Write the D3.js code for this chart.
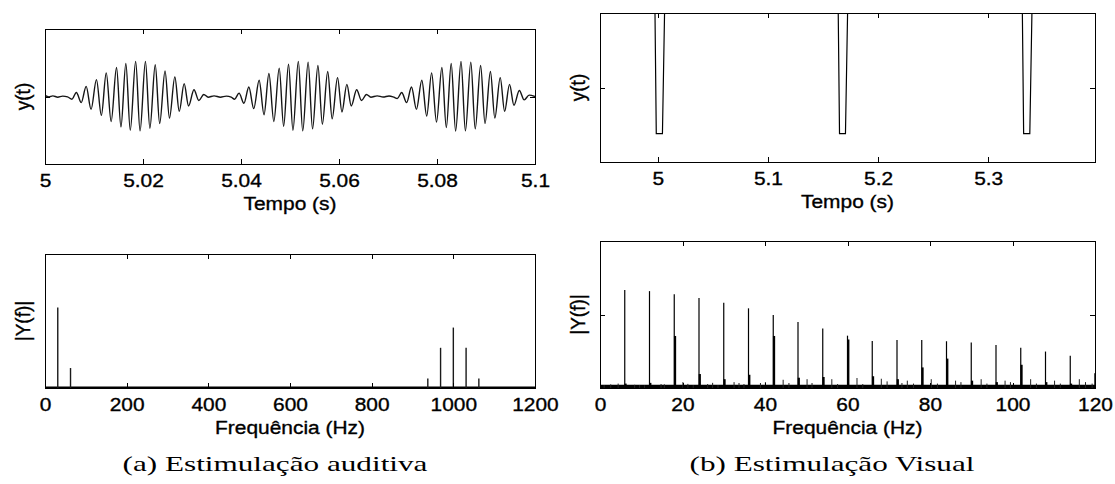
<!DOCTYPE html>
<html><head><meta charset="utf-8">
<script src="https://cdn.jsdelivr.net/npm/d3@7"></script>
<style>body{margin:0;background:#fff}svg{display:block}</style>
</head><body>
<svg id="c" width="1115" height="484"></svg>
<script>
// ---------- (a) auditory stimulation: time signal (extrema) ----------
const audTime = [5.0000,5.0008,5.0016,5.0026,5.0036,5.0046,
 5.0055,5.0064,5.0074,5.0084,5.0094,5.0105,5.0115,5.0125,5.0135,5.0146,5.0155,5.0165,5.0174,5.0185,5.0194,5.0205,5.0214,5.0225,5.0234,5.0245,5.0254,5.0265,5.0274,5.0284,5.0293,5.0304,5.0314,5.0324,5.0333,
 5.0345,5.0358,5.0370,5.0380,
 5.0387,5.0396,5.0406,5.0416,5.0426,5.0437,5.0447,5.0457,5.0467,5.0478,5.0487,5.0497,5.0506,5.0517,5.0526,5.0537,5.0546,5.0557,5.0566,5.0577,5.0586,5.0597,5.0606,5.0616,5.0625,5.0636,5.0646,5.0656,5.0665,
 5.0678,5.0690,5.0702,5.0712,
 5.0719,5.0728,5.0738,5.0748,5.0758,5.0769,5.0779,5.0789,5.0799,5.0810,5.0819,5.0829,5.0838,5.0849,5.0858,5.0869,5.0878,5.0889,5.0898,5.0909,5.0918,5.0929,5.0938,5.0948,5.0957,5.0968,5.0978,5.0988,5.1000];
const audAmp = [0.015,-0.005,0.01,-0.01,0.005,-0.005,
 -0.04,0.06,-0.09,0.15,-0.19,0.25,-0.28,0.35,-0.37,0.43,-0.45,0.49,-0.50,0.52,-0.51,0.52,-0.47,0.47,-0.40,0.38,-0.32,0.29,-0.22,0.19,-0.14,0.10,-0.06,0.03,-0.01,
 0.01,-0.01,0.005,-0.01,
 -0.04,0.05,-0.10,0.14,-0.18,0.24,-0.27,0.34,-0.37,0.42,-0.44,0.48,-0.50,0.52,-0.51,0.51,-0.48,0.46,-0.41,0.37,-0.33,0.28,-0.23,0.18,-0.14,0.10,-0.06,0.03,-0.01,
 0.01,-0.008,0.008,-0.01,
 -0.03,0.06,-0.09,0.14,-0.19,0.24,-0.29,0.35,-0.38,0.43,-0.46,0.49,-0.51,0.52,-0.51,0.51,-0.48,0.46,-0.40,0.37,-0.32,0.28,-0.22,0.18,-0.13,0.09,-0.05,0.02,0.0];
const audTimeTicks = [5, 5.02, 5.04, 5.06, 5.08, 5.1];

// ---------- (a) spectrum ----------
const audFreq = [31.25, 62.5, 937.5, 968.75, 1000, 1031.25, 1062.5];
const audMag  = [0.60, 0.149, 0.071, 0.30, 0.451, 0.30, 0.071];
const audFreqTicks = [0, 200, 400, 600, 800, 1000, 1200];

// ---------- (b) visual stimulation: time signal samples ----------
const visTime = [4.90, 4.9960, 4.9986, 5.0042, 5.0085, 5.1624, 5.1650, 5.1704, 5.1747, 5.3296, 5.3322, 5.3378, 5.3421, 5.45];
const visAmp  = [3, 3, -0.62, -0.62, 3, 3, -0.62, -0.62, 3, 3, -0.62, -0.62, 3, 3];
const visTimeTicks = [5, 5.1, 5.2, 5.3];

// ---------- (b) spectrum ----------
const visHarmFreq = [6,12,18,24,30,36,42,48,54,60,66,72,78,84,90,96,102,108,114,120];
const visHarmMag  = [0.666,0.659,0.637,0.612,0.580,0.542,0.497,0.449,0.404,0.356,0.320,0.327,0.327,0.318,0.309,0.293,0.273,0.248,0.219,0.10];
const visBumpMag  = [0.03,0.035,0.354,0.095,0.06,0.09,0.354,0.07,0.075,0.33,0.08,0.06,0.14,0.20,0.05,0.04,0.158,0.04,0.03,0.10];
const visNoiseFreq = [1.0,2.6,4.4,8.4,9.6,10.8,14.8,15.6,20.1,21.3,22.6,26.1,27.3,28.6,32.5,33.7,34.9,38.9,40.1,44.4,45.8,50.2,51.4,56.2,57.6,62.3,63.7,68.2,69.6,73.2,74.5,76.0,80.3,81.8,86.2,87.5,92.4,93.8,98.2,99.5,104.4,105.8,110.2,111.6,116.2,117.7,119.3];
const visNoiseMag  = [0.02,0.025,0.03,0.022,0.02,0.018,0.027,0.025,0.04,0.028,0.02,0.027,0.035,0.02,0.04,0.034,0.027,0.034,0.04,0.056,0.034,0.06,0.034,0.06,0.027,0.068,0.027,0.063,0.045,0.034,0.05,0.03,0.06,0.03,0.05,0.04,0.06,0.03,0.05,0.04,0.06,0.03,0.05,0.03,0.06,0.04,0.03];
const visFloorFreq = [0, 120];
const visFloorMag  = [0.011, 0.011];
const visFreqTicks = [0, 20, 40, 60, 80, 100, 120];

const captions = ["(a) Estimulação auditiva", "(b) Estimulação Visual"];

// ---------- drawing ----------
const svg = d3.select('#c');
const SANS = '"Liberation Sans", Arial, Helvetica, sans-serif';
const FS = 19, SX = 1.1, TXT_STROKE = 0.35;
let clipId = 0;

function fmtNum(v){ return String(+v.toFixed(3)); }

function panel(o){
  const x = d3.scaleLinear().domain(o.xd).range([o.l, o.r]);
  const y = d3.scaleLinear().domain(o.yd).range([o.b, o.t]);
  const g = svg.append('g');
  const id = 'clip' + (clipId++);
  svg.append('clipPath').attr('id', id).append('rect')
    .attr('x', o.l).attr('y', o.t).attr('width', o.r - o.l).attr('height', o.b - o.t);
  const plot = g.append('g').attr('clip-path', `url(#${id})`);
  const TL = 5;
  const bottom = g.append('g').attr('transform', `translate(0,${o.b})`)
    .call(d3.axisBottom(x).tickValues(o.xt).tickFormat(fmtNum).tickSizeInner(-TL).tickSizeOuter(0).tickPadding(9.5));
  const top = g.append('g').attr('transform', `translate(0,${o.t})`)
    .call(d3.axisTop(x).tickValues(o.xt).tickFormat('').tickSizeInner(-TL).tickSizeOuter(0));
  const axes = [bottom, top];
  if (o.yt) {
    axes.push(g.append('g').attr('transform', `translate(${o.l},0)`)
      .call(d3.axisLeft(y).tickValues(o.yt).tickFormat('').tickSizeInner(-TL).tickSizeOuter(0)));
    axes.push(g.append('g').attr('transform', `translate(${o.r},0)`)
      .call(d3.axisRight(y).tickValues(o.yt).tickFormat('').tickSizeInner(-TL).tickSizeOuter(0)));
  }
  axes.forEach(a => {
    a.select('.domain').remove();
    a.selectAll('line').attr('stroke', '#000').attr('shape-rendering', 'crispEdges');
  });
  bottom.attr('font-family', SANS).attr('font-size', FS);
  bottom.selectAll('text').attr('fill', '#000').attr('stroke', '#000').attr('stroke-width', TXT_STROKE)
    .attr('transform', `scale(${SX},1)`);
  g.append('rect').attr('x', o.l).attr('y', o.t).attr('width', o.r - o.l).attr('height', o.b - o.t)
    .attr('fill', 'none').attr('stroke', '#000').attr('stroke-width', 1).attr('shape-rendering', 'crispEdges');
  g.append('text').attr('transform', `translate(${(o.l + o.r) / 2},${o.b + 45.5}) scale(${SX},1)`)
    .attr('text-anchor', 'middle').attr('font-family', SANS).attr('font-size', FS)
    .attr('stroke', '#000').attr('stroke-width', TXT_STROKE).text(o.xl);
  g.append('text').attr('transform', `translate(${o.l - 15},${(o.t + o.b) / 2}) rotate(-90) scale(1,${SX})`)
    .attr('text-anchor', 'middle').attr('font-family', SANS).attr('font-size', FS)
    .attr('stroke', '#000').attr('stroke-width', TXT_STROKE).text(o.yl);
  return {x, y, plot};
}

// (a) top: y(t)
const pA1 = panel({l:45, r:535, t:29, b:164, xd:[5, 5.1], yd:[-1, 1], xt:audTimeTicks, yt:[0], xl:'Tempo (s)', yl:'y(t)'});
pA1.plot.append('path')
  .datum(audTime.map((t, i) => [t, audAmp[i]]))
  .attr('fill', 'none').attr('stroke', '#151515').attr('stroke-width', 1.4)
  .attr('d', d3.line().x(d => pA1.x(d[0])).y(d => pA1.y(d[1])).curve(d3.curveMonotoneX));

// (a) bottom: |Y(f)|
const pA2 = panel({l:45, r:535, t:254, b:388, xd:[0, 1200], yd:[0, 1], xt:audFreqTicks, yt:null, xl:'Frequência (Hz)', yl:'|Y(f)|'});
pA2.plot.append('path')
  .datum([[0, 0], [1200, 0]])
  .attr('stroke', '#000').attr('stroke-width', 3)
  .attr('d', d3.line().x(d => pA2.x(d[0])).y(d => pA2.y(d[1])));
pA2.plot.selectAll('line.stem').data(audFreq).join('line').attr('class', 'stem')
  .attr('x1', d => pA2.x(d)).attr('x2', d => pA2.x(d))
  .attr('y1', pA2.y(0)).attr('y2', (d, i) => pA2.y(audMag[i]))
  .attr('stroke', '#1a1a1a').attr('stroke-width', 1.4);

// (b) top: y(t)
const pB1 = panel({l:600, r:1095, t:13, b:162, xd:[4.9475, 5.397], yd:[-1, 1], xt:visTimeTicks, yt:[0], xl:'Tempo (s)', yl:'y(t)'});
pB1.plot.append('path')
  .datum(visTime.map((t, i) => [t, visAmp[i]]))
  .attr('fill', 'none').attr('stroke', '#000').attr('stroke-width', 1.2)
  .attr('d', d3.line().x(d => pB1.x(d[0])).y(d => pB1.y(d[1])));

// (b) bottom: |Y(f)|
const pB2 = panel({l:600, r:1095, t:241, b:388, xd:[0, 120], yd:[0, 1], xt:visFreqTicks, yt:[0.5], xl:'Frequência (Hz)', yl:'|Y(f)|'});
pB2.plot.append('path')
  .datum(visFloorFreq.map((f, i) => [f, visFloorMag[i]]))
  .attr('stroke', '#000').attr('stroke-width', 3.2)
  .attr('d', d3.line().x(d => pB2.x(d[0])).y(d => pB2.y(d[1])));
pB2.plot.selectAll('line.noise').data(visNoiseFreq).join('line').attr('class', 'noise')
  .attr('x1', d => pB2.x(d)).attr('x2', d => pB2.x(d))
  .attr('y1', pB2.y(0)).attr('y2', (d, i) => pB2.y(visNoiseMag[i]))
  .attr('stroke', '#222').attr('stroke-width', 1);
pB2.plot.selectAll('line.bump').data(visHarmFreq).join('line').attr('class', 'bump')
  .attr('x1', d => pB2.x(d) + 0.8).attr('x2', d => pB2.x(d) + 0.8)
  .attr('y1', pB2.y(0)).attr('y2', (d, i) => pB2.y(visBumpMag[i]))
  .attr('stroke', '#000').attr('stroke-width', 2.2);
pB2.plot.selectAll('line.harm').data(visHarmFreq).join('line').attr('class', 'harm')
  .attr('x1', d => pB2.x(d)).attr('x2', d => pB2.x(d))
  .attr('y1', pB2.y(0)).attr('y2', (d, i) => pB2.y(visHarmMag[i]))
  .attr('stroke', '#000').attr('stroke-width', 1.2);

// captions (serif), stretched to the measured widths
const capPos = [[275, 471, 305], [832, 471, 285]];
captions.forEach((c, i) => {
  const g = svg.append('g').attr('transform', `translate(${capPos[i][0]},${capPos[i][1]})`);
  const t = g.append('text').attr('text-anchor', 'middle')
    .attr('font-family', '"Liberation Serif", "Times New Roman", serif').attr('font-size', 21).text(c);
  const w = t.node().getComputedTextLength();
  t.attr('transform', `scale(${capPos[i][2] / w},1)`);
});
</script>
</body></html>
